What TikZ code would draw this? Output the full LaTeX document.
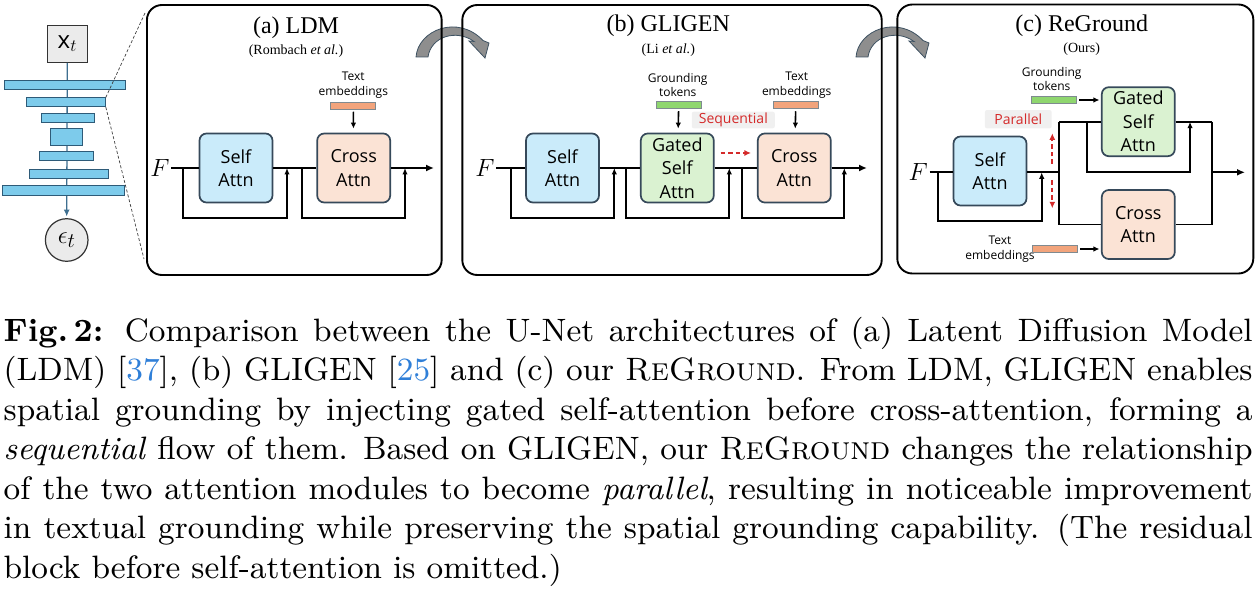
\documentclass[tikz,border=0pt]{standalone}
\usepackage{fontspec}
\newfontfamily\boxfont{Open Sans}
\newfontfamily\headfont{Liberation Serif}
\usetikzlibrary{arrows.meta, positioning}

\definecolor{unetfill}{HTML}{7DCBEB}
\definecolor{unetedge}{HTML}{2E5B78}
\definecolor{stemcol}{HTML}{3E6F90}
\definecolor{greyfill}{HTML}{EBEBEB}
\definecolor{boxedge}{HTML}{36495A}
\definecolor{selffill}{HTML}{CAEBFA}
\definecolor{gatedfill}{HTML}{DAF2D1}
\definecolor{crossfill}{HTML}{FBE3D5}
\definecolor{textbar}{HTML}{F2A47C}
\definecolor{groundbar}{HTML}{8FD66F}
\definecolor{baredge}{HTML}{7F8A90}
\definecolor{tagred}{HTML}{D42A2A}
\definecolor{taggrey}{HTML}{F0F0F0}
\definecolor{turnfill}{HTML}{8E8E8E}
\definecolor{turnedge}{HTML}{3E5262}
\definecolor{citeblue}{HTML}{2F7FD8}

\tikzset{
  panel/.style={draw, line width=1.9pt, rounded corners=15pt, inner sep=0pt},
  ttl/.style={font=\headfont\fontsize{24}{28}\selectfont, inner sep=0pt, anchor=base},
  subttl/.style={font=\headfont\fontsize{14}{16}\selectfont, inner sep=0pt, anchor=base},
  attn/.style={draw=boxedge, line width=1.7pt, rounded corners=7pt, minimum width=73pt,
    minimum height=69pt, inner sep=0pt, align=center, font=\boxfont\fontsize{18}{23.5}\selectfont},
  inlbl/.style={font=\boxfont\fontsize{12}{14.5}\selectfont, align=center, inner sep=0pt},
  embbar/.style={draw=baredge, line width=0.9pt, minimum width=45pt, minimum height=7pt, inner sep=0pt},
  ital/.style={font=\fontsize{25}{28}\selectfont, inner sep=1.5pt},
  line/.style={line width=1.9pt},
  flow/.style={line width=1.9pt, -{Latex[length=8pt, width=7pt]}},
  skip/.style={line width=1.9pt, -{Latex[length=6.5pt, width=5.5pt]}},
  feed/.style={line width=1.6pt, -{Latex[length=6pt, width=5.5pt]}, shorten >=4pt, shorten <=2pt},
  tag/.style={fill=taggrey, rounded corners=2pt, text=tagred, font=\boxfont\fontsize{14}{16}\selectfont, inner sep=0pt},
  redflow/.style={draw=tagred, line width=1.9pt, dash pattern=on 4.5pt off 3pt, -{Latex[length=6.5pt, width=6pt]}},
  unetbar/.style={draw=unetedge, fill=unetfill, line width=1pt, inner sep=0pt},
  zoomline/.style={draw=black!75, line width=0.7pt, dash pattern=on 3pt off 2pt},
  turn/.style={fill=turnfill, draw=turnedge, line width=0.8pt},
}

\begin{document}
\begin{tikzpicture}[x=1pt, y=-1pt]
\useasboundingbox (0,0) rectangle (1256,591);

% curved arrows between the panels
\foreach \dx in {0,440} {
  \begin{scope}[xshift=\dx pt]
    \draw[turn] (416,57) .. controls (418,30) and (458,14) .. (483,40.5) -- (489,43) -- (485,58)
      -- (469,41) -- (474,41.5) .. controls (457,29) and (431,36) .. (428,57) -- cycle;
  \end{scope}
}

% panels
\node[panel, minimum width=294.7pt, minimum height=270pt] (panA) at (294.3,140) {};
\node[panel, minimum width=419.4pt, minimum height=270pt] (panB) at (672,140) {};
\node[panel, minimum width=356pt, minimum height=269pt] (panC) at (1075.3,139) {};

% U-Net
\node[draw=black!80, fill=greyfill, line width=1.2pt, minimum width=40pt, minimum height=37pt,
  inner sep=0pt, font=\fontsize{24}{28}\selectfont] (xt) at (67.3,43.7) {{\boxfont x}$_t$};
\node[circle, draw=black!80, fill=greyfill, line width=1.2pt, minimum size=42.6pt, inner sep=0pt,
  font=\fontsize{30}{34}\selectfont] (eps) at (66.7,240) {$\epsilon_t$};
\draw[draw=stemcol, line width=1.3pt, -{Latex[length=7pt, width=6pt]}, shorten >=1.5pt] (xt.south) -- (eps.north);
\foreach \x/\y/\w/\h [count=\i] in {65.3/84.7/121.3/9.3, 66/102.3/78.6/8.7, 67.7/118.2/53.3/9,
    66.5/137.3/31.6/16.7, 66.8/156.2/53.7/9, 68.8/173.8/79/9, 63.7/190.8/122/9.7}
  \node[unetbar, minimum width=\w pt, minimum height=\h pt] (lvl\i) at (\x,\y) {};
\coordinate (zoomT) at (145,13);
\coordinate (zoomB) at (144,259);
\draw[zoomline] (lvl2.north east) -- (zoomT);
\draw[zoomline] (lvl2.south east) -- (zoomB);

% (a) LDM
\node[ttl] (ttlA) at (296,34) {(a) LDM};
\node[subttl] (subA) at (296,55) {(Rombach \textit{et al.})};
\node[ital] (fA) at (160,168) {$F$};
\node[attn, fill=selffill] (selfA) at (236,168) {Self\\Attn};
\node[attn, fill=crossfill] (crossA) at (353.7,168) {Cross\\Attn};
\node[inlbl] (teLblA) at (353.3,85) {Text\\embeddings};
\node[embbar, fill=textbar] (teBarA) at (353.3,105.8) {};
\coordinate (rA1) at (183,168);
\coordinate (jA1) at (287,168);
\coordinate (rA2) at (302,168);
\coordinate (jA2) at (405,168);
\coordinate (outA) at (434,168);
\draw[line] (fA.east) -- (selfA.west);
\draw[line] (selfA.east) -- (crossA.west);
\draw[flow] (crossA.east) -- (outA);
\draw[skip] (rA1) -- ++(0,50) -| (jA1);
\draw[skip] (rA2) -- ++(0,50) -| (jA2);
\draw[feed] (teBarA) -- (crossA);

% (b) GLIGEN
\node[ttl] (ttlB) at (668.3,32) {(b) GLIGEN};
\node[subttl] (subB) at (668.3,53.3) {(Li \textit{et al.})};
\node[ital] (fB) at (485,168) {$F$};
\node[attn, fill=selffill] (selfB) at (562.5,168) {Self\\Attn};
\node[attn, fill=gatedfill] (gatedB) at (677.3,168) {Gated\\Self\\Attn};
\node[attn, fill=crossfill] (crossB) at (794.3,168) {Cross\\Attn};
\node[inlbl] (gtLblB) at (677.7,85) {Grounding\\tokens};
\node[embbar, fill=groundbar] (gtBarB) at (678.7,105.2) {};
\node[inlbl] (teLblB) at (796.7,85) {Text\\embeddings};
\node[embbar, fill=textbar] (teBarB) at (795.8,105.3) {};
\node[tag, minimum width=83pt, minimum height=16.6pt] (seqB) at (733.3,120) {Sequential};
\coordinate (rB1) at (511,168);
\coordinate (jB1) at (614.3,168);
\coordinate (rB2) at (625.7,168);
\coordinate (jB2) at (729.3,168);
\coordinate (rB3) at (742.3,168);
\coordinate (jB3) at (844.3,168);
\coordinate (outB) at (867,168);
\draw[line] (fB.east) -- (selfB.west);
\draw[line] (selfB.east) -- (gatedB.west);
\draw[line] (gatedB.east) -- (crossB.west);
\draw[flow] (crossB.east) -- (outB);
\draw[skip] (rB1) -- ++(0,50) -| (jB1);
\draw[skip] (rB2) -- ++(0,50) -| (jB2);
\draw[skip] (rB3) -- ++(0,50) -| (jB3);
\draw[feed] (gtBarB) -- (gatedB);
\draw[feed] (teBarB) -- (crossB);
\draw[redflow, shorten <=6pt, shorten >=6pt] ([yshift=15pt]gatedB.east) -- ([yshift=15pt]crossB.west);

% (c) ReGround
\node[ttl] (ttlC) at (1081.7,32) {(c) ReGround};
\node[subttl] (subC) at (1081.7,52.7) {(Ours)};
\node[ital] (fC) at (918.3,172.3) {$F$};
\node[attn, fill=selffill] (selfC) at (990,171) {Self\\Attn};
\node[attn, fill=gatedfill] (gatedC) at (1138.3,121.7) {Gated\\Self\\Attn};
\node[attn, fill=crossfill] (crossC) at (1138.3,224.5) {Cross\\Attn};
\node[inlbl] (gtLblC) at (1051.7,79) {Grounding\\tokens};
\node[embbar, fill=groundbar] (gtBarC) at (1054.2,100) {};
\node[inlbl] (teLblC) at (1000,249) {Text\\embeddings};
\node[embbar, fill=textbar] (teBarC) at (1055.2,249) {};
\node[tag, minimum width=66.7pt, minimum height=18.3pt] (parC) at (1018.3,119.2) {Parallel};
\coordinate (rC1) at (938.3,172.3);
\coordinate (jC1) at (1041.7,172.3);
\coordinate (splitM) at (1059,172.3);
\coordinate (splitT) at (1059,121.7);
\coordinate (splitB) at (1059,224.5);
\coordinate (rG) at (1087.3,121.7);
\coordinate (jG) at (1190,121.7);
\coordinate (mergeT) at (1211.7,121.7);
\coordinate (mergeM) at (1211.7,172.3);
\coordinate (mergeB) at (1211.7,224.5);
\coordinate (outC) at (1245,172.3);
\coordinate (upS) at (1052.3,164);
\coordinate (upE) at (1052.3,133.3);
\coordinate (dnS) at (1052.3,180);
\coordinate (dnE) at (1052.3,208.3);
\draw[line] (fC.east) -- (selfC.west |- fC);
\draw[line] (selfC.east |- fC) -- (splitM);
\draw[line] (splitT) -- (splitB);
\draw[line] (splitT) -- (gatedC.west);
\draw[line] (splitB) -- (crossC.west);
\draw[line] (gatedC.east) -- (mergeT);
\draw[line] (crossC.east) -- (mergeB);
\draw[line] (mergeT) -- (mergeB);
\draw[flow] (mergeM) -- (outC);
\draw[skip] (rC1) -- ++(0,48.4) -| (jC1);
\draw[skip] (rG) -- ++(0,50.6) -| (jG);
\draw[feed, shorten >=1.5pt] (gtBarC.east) -- (gtBarC -| gatedC.west);
\draw[feed, shorten >=1.5pt] (teBarC.east) -- (teBarC -| crossC.west);
\draw[redflow] (upS) -- (upE);
\draw[redflow] (dnS) -- (dnE);

% caption
\begin{scope}[shift={(3,316)}]
\node[anchor=north west, inner sep=0pt, scale=3.597, transform shape, text width=347.2pt,
  align=justify, font=\fontsize{9}{11}\selectfont] (capt) at (0,0) {%
\textbf{Fig.\,2:} Comparison between the U-Net architectures of (a) Latent Diffusion Model\linebreak
(LDM) [\textcolor{citeblue}{37}], (b) GLIGEN [\textcolor{citeblue}{25}] and (c) our \textsc{ReGround}. From LDM, GLIGEN enables\linebreak
spatial grounding by injecting gated self-attention before cross-attention, forming a\linebreak
\emph{sequential} flow of them. Based on GLIGEN, our \textsc{ReGround} changes the relationship\linebreak
of the two attention modules to become \emph{parallel}, resulting in noticeable improvement\linebreak
in textual grounding while preserving the spatial grounding capability. (The residual\linebreak
block before self-attention is omitted.)};
\end{scope}
\end{tikzpicture}
\end{document}
